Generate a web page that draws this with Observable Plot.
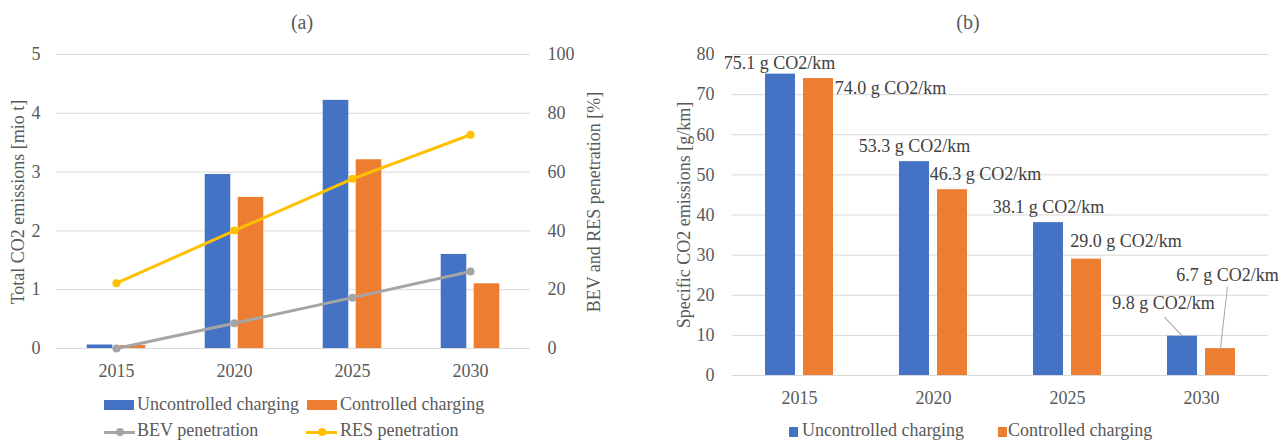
<!DOCTYPE html>
<html><head><meta charset="utf-8">
<script src="https://cdn.jsdelivr.net/npm/d3@7"></script>
<script src="https://cdn.jsdelivr.net/npm/@observablehq/plot@0.6"></script>
<style>
html,body{margin:0;padding:0;background:#fff;}
#root{position:relative;width:1288px;height:441px;overflow:hidden;font-family:"Liberation Serif","Times New Roman",serif;color:#595959;}
.abs{position:absolute;white-space:nowrap;}
.t{font-size:18px;line-height:20px;}
.ttl{font-size:20px;line-height:22px;transform:translateX(-50%);}
.rot{font-size:18px;line-height:18px;transform:translate(-50%,-50%) rotate(-90deg);}
svg{position:absolute;top:0;overflow:visible;}
</style></head><body><div id="root"></div>
<script>
// ---------- data ----------
const years = ["2015", "2020", "2025", "2030"];
const totalUncontrolled = [0.06, 2.96, 4.22, 1.60];   // mio t
const totalControlled   = [0.05, 2.57, 3.21, 1.10];   // mio t
const bevPenetration    = [0, 8.6, 17.3, 26.2];       // %
const resPenetration    = [22.2, 40.1, 57.7, 72.7];   // %
const leftTicks  = [0, 1, 2, 3, 4, 5];
const rightTicks = [0, 20, 40, 60, 80, 100];
const specUncontrolled = [75.1, 53.3, 38.1, 9.8];     // g/km
const specControlled   = [74.0, 46.3, 29.0, 6.7];     // g/km
const specTicks = [0, 10, 20, 30, 40, 50, 60, 70, 80];
const barSeries  = ["Uncontrolled charging", "Controlled charging"];
const lineSeries = ["BEV penetration", "RES penetration"];
const titles = ["(a)", "(b)"];
const axisTitles = ["Total CO2 emissions [mio t]", "BEV and RES penetration [%]", "Specific CO2 emissions [g/km]"];
const labelUnit = " g CO2/km";

// ---------- style / layout ----------
const colors = {unc: "#4472C4", con: "#ED7D31", bev: "#A5A5A5", res: "#FFC000", grid: "#D9D9D9", text: "#595959", label: "#404040", leader: "#A6A6A6"};
const ratio = 20; // right axis (%) per left axis unit
const uncLabelDx = [-20, -19, -19, -38], uncLabelDy = [-11, -15, -15, -33];
const conLabelDx = [91, 52, 58.5, 26],   conLabelDy = [10, -15, -17.5, -73];
const leaderShape = {draw(ctx, l) { ctx.moveTo(0, 0); ctx.lineTo(0, -l); }};

const root = document.getElementById("root");
const plotStyle = {fontFamily: '"Liberation Serif","Times New Roman",serif', fontSize: "18px", color: colors.text, background: "transparent", overflow: "visible"};

// ---------- chart (a) ----------
const tableA = years.map((y, i) => ({year: y, unc: totalUncontrolled[i], con: totalControlled[i], bev: bevPenetration[i] / ratio, res: resPenetration[i] / ratio}));
const plotA = Plot.plot({
  width: 640, height: 390, marginLeft: 56, marginRight: 110, marginTop: 54, marginBottom: 42,
  style: plotStyle,
  x: {type: "band", domain: years, padding: 0, label: null},
  y: {domain: [0, 5], label: null},
  marks: [
    Plot.gridY(leftTicks, {stroke: colors.grid, strokeOpacity: 1, strokeWidth: 1}),
    Plot.axisY(leftTicks, {anchor: "left", tickSize: 0, tickPadding: 16, label: null, tickFormat: d => String(d)}),
    Plot.axisY(rightTicks.map(v => v / ratio), {anchor: "right", tickSize: 0, tickPadding: 17, label: null, tickFormat: d => String(Math.round(d * ratio))}),
    Plot.axisX({tickSize: 0, tickPadding: 16, label: null}),
    Plot.barY(tableA, {x: "year", y: "unc", fill: colors.unc, insetLeft: 29.7, insetRight: 62.7}),
    Plot.barY(tableA, {x: "year", y: "con", fill: colors.con, insetLeft: 62.7, insetRight: 29.7}),
    Plot.line(tableA, {x: "year", y: "bev", stroke: colors.bev, strokeWidth: 3}),
    Plot.dot(tableA, {x: "year", y: "bev", fill: colors.bev, r: 4}),
    Plot.line(tableA, {x: "year", y: "res", stroke: colors.res, strokeWidth: 3}),
    Plot.dot(tableA, {x: "year", y: "res", fill: colors.res, r: 4})
  ]
});
plotA.style.left = "0px";
root.appendChild(plotA);

// ---------- chart (b) ----------
const tableB = years.map((y, i) => ({year: y, unc: specUncontrolled[i], con: specControlled[i]}));
const fmt = v => v.toFixed(1) + labelUnit;
const labelMarks = [];
tableB.forEach((d, i) => {
  labelMarks.push(Plot.text([d], {x: "year", y: "unc", text: r => fmt(r.unc), dx: uncLabelDx[i], dy: uncLabelDy[i], fill: colors.label}));
  labelMarks.push(Plot.text([d], {x: "year", y: "con", text: r => fmt(r.con), dx: conLabelDx[i], dy: conLabelDy[i], fill: colors.label}));
});
const last = [tableB[3]];
const plotB = Plot.plot({
  width: 648, height: 400, marginLeft: 92, marginRight: 20, marginTop: 54, marginBottom: 25,
  style: plotStyle,
  x: {type: "band", domain: years, padding: 0, label: null},
  y: {domain: [0, 80], label: null},
  marks: [
    Plot.gridY(specTicks, {stroke: colors.grid, strokeOpacity: 1, strokeWidth: 1}),
    Plot.axisY(specTicks, {anchor: "left", tickSize: 0, tickPadding: 18, label: null, tickFormat: d => String(d)}),
    Plot.axisX({tickSize: 0, tickPadding: 16, label: null}),
    Plot.barY(tableB, {x: "year", y: "unc", fill: colors.unc, insetLeft: 33, insetRight: 71}),
    Plot.barY(tableB, {x: "year", y: "con", fill: colors.con, insetLeft: 71, insetRight: 33}),
    Plot.vector(last, {x: "year", y: "unc", dx: -19, length: 26, rotate: -43.5, anchor: "start", shape: leaderShape, stroke: colors.leader, strokeWidth: 1}),
    Plot.vector(last, {x: "year", y: "con", dx: 19, length: 62, rotate: 6.4, anchor: "start", shape: leaderShape, stroke: colors.leader, strokeWidth: 1}),
    ...labelMarks
  ]
});
plotB.style.left = "640px";
root.appendChild(plotB);

// ---------- html text: titles, axis titles, legends ----------
function el(cls, css, txt) {
  const d = document.createElement("div");
  d.className = "abs " + cls;
  Object.assign(d.style, css);
  if (txt != null) d.textContent = txt;
  root.appendChild(d);
  return d;
}
el("ttl", {left: "302px", top: "11px"}, titles[0]);
el("ttl", {left: "968px", top: "11px"}, titles[1]);
el("rot", {left: "18px", top: "202px"}, axisTitles[0]);
el("rot", {left: "594px", top: "202px"}, axisTitles[1]);
el("rot", {left: "684px", top: "215px"}, axisTitles[2]);

// legend (a)
el("", {left: "104px", top: "400px", width: "29.5px", height: "9.5px", background: colors.unc});
el("t", {left: "137px", top: "394px"}, barSeries[0]);
el("", {left: "307px", top: "400px", width: "30px", height: "9.5px", background: colors.con});
el("t", {left: "340px", top: "394px"}, barSeries[1]);
el("", {left: "104px", top: "430.5px", width: "31px", height: "3px", background: colors.bev});
el("", {left: "115.5px", top: "428px", width: "8px", height: "8px", borderRadius: "50%", background: colors.bev});
el("t", {left: "137px", top: "420px"}, lineSeries[0]);
el("", {left: "306px", top: "430.5px", width: "31px", height: "3px", background: colors.res});
el("", {left: "317.5px", top: "428px", width: "8px", height: "8px", borderRadius: "50%", background: colors.res});
el("t", {left: "340px", top: "420px"}, lineSeries[1]);

// legend (b)
el("", {left: "789px", top: "427px", width: "9px", height: "9.5px", background: colors.unc});
el("t", {left: "802px", top: "420px"}, barSeries[0]);
el("", {left: "998px", top: "427px", width: "9px", height: "9.5px", background: colors.con});
el("t", {left: "1008px", top: "420px"}, barSeries[1]);
</script>
</body></html>
